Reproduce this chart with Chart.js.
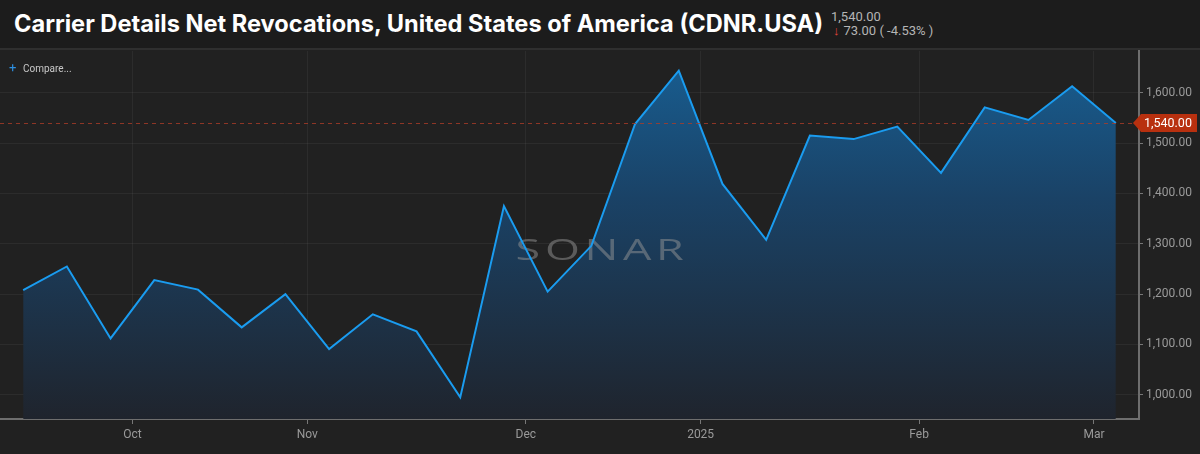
<!DOCTYPE html>
<html>
<head>
<meta charset="utf-8">
<script src="https://cdn.jsdelivr.net/npm/chart.js@4.4.1/dist/chart.umd.min.js"></script>
<style>
  html, body { margin: 0; padding: 0; background: #212121; }
  #wrap { width: 1200px; height: 454px; position: relative; overflow: hidden; }
  #head { height: 48px; background: #1c1c1c; border-bottom: 2px solid #2f2f2f; position: relative; font-family: Roboto, "Noto Sans", sans-serif; }
  #title { position: absolute; left: 14px; top: 9px; color: #fff; font-family: Inter, "Liberation Sans", sans-serif; font-size: 23.6px; font-weight: 700; white-space: nowrap; line-height: 30px; }
  #last { position: absolute; left: 831px; top: 10px; color: #b5b5b5; font-size: 13px; line-height: 14px; }
  #chg { position: absolute; left: 833px; top: 24px; color: #b5b5b5; font-size: 13px; line-height: 14px; }
  #chg span { color: #e0453a; font-weight: 700; margin-right: 4px; }
  #box { width: 1200px; height: 404px; }
</style>
</head>
<body>
<div id="wrap">
  <div id="head">
    <div id="title">Carrier Details Net Revocations, United States of America (CDNR.USA)</div>
    <div id="last">1,540.00</div>
    <div id="chg"><span>&#8595;</span>73.00 ( -4.53% )</div>
  </div>
  <div id="box"><canvas id="myChart1"></canvas></div>
</div>
<script>
  // weekly readings, mid Sep 2024 -> early Mar 2025
  const weeks = ['Sep 14','Sep 21','Sep 28','Oct 5','Oct 12','Oct 19','Oct 26','Nov 2','Nov 9','Nov 16','Nov 23','Nov 30',
    'Dec 7','Dec 14','Dec 21','Dec 28','Jan 4','Jan 11','Jan 18','Jan 25','Feb 1','Feb 8','Feb 15','Feb 22','Mar 1','Mar 8'];
  const revocations = [1208, 1255, 1112, 1228, 1209, 1134, 1200, 1091, 1160, 1126, 995, 1375,
    1205, 1296, 1538, 1644, 1419, 1308, 1515, 1508, 1533, 1441, 1571, 1546, 1613, 1540];

  // month ticks sit between weekly points
  const monthTickPos = [2.5, 6.5, 11.5, 15.5, 20.5, 24.5];
  const monthTickLabels = ['Oct', 'Nov', 'Dec', '2025', 'Feb', 'Mar'];
  const yTicks = [1000, 1100, 1200, 1300, 1400, 1500, 1600];

  const points = revocations.map((v, i) => ({ x: i, y: v }));
  const lastVal = revocations[revocations.length - 1];

  const fmt = v => v.toLocaleString('en-US', { minimumFractionDigits: 2, maximumFractionDigits: 2 });

  const extras = {
    id: 'extras',
    beforeDatasetsDraw(chart) {
      // watermark sits between the area fill and the line
      const { ctx, chartArea } = chart;
      ctx.save();
      ctx.translate((chartArea.left + chartArea.right) / 2 + 31, 202);
      ctx.scale(1.55, 1);
      ctx.font = '400 29px "Open Sans", Lato, sans-serif';
      ctx.letterSpacing = '3px';
      ctx.fillStyle = 'rgba(150,150,150,0.5)';
      ctx.textAlign = 'center';
      ctx.textBaseline = 'middle';
      ctx.fillText('SONAR', 1, 0);
      ctx.restore();
    },
    afterDatasetsDraw(chart) {
      const { ctx, chartArea, scales } = chart;
      const y = scales.y.getPixelForValue(lastVal);
      ctx.save();
      ctx.strokeStyle = 'rgba(170,60,40,0.8)';
      ctx.lineWidth = 1;
      ctx.setLineDash([4, 4]);
      ctx.beginPath();
      ctx.moveTo(chartArea.left, Math.round(y) + 0.5);
      ctx.lineTo(chartArea.right, Math.round(y) + 0.5);
      ctx.stroke();
      ctx.setLineDash([]);
      // compare button
      ctx.fillStyle = '#2d8fe0';
      ctx.textBaseline = 'middle';
      ctx.font = '13px Roboto, sans-serif';
      ctx.fillText('+', 9, 19);
      ctx.font = '10px Roboto, sans-serif';
      ctx.fillStyle = '#c8c8c8';
      ctx.fillText('Compare...', 23, 19);
      ctx.restore();
    },
    afterDraw(chart) {
      const { ctx, chartArea, scales } = chart;
      ctx.save();
      // y tick labels drawn here so they add no padding to the layout
      ctx.fillStyle = '#9a9a9a';
      ctx.font = '12px Roboto, sans-serif';
      ctx.textBaseline = 'middle';
      ctx.textAlign = 'left';
      yTicks.forEach(v => {
        ctx.fillText(fmt(v), chartArea.right + 7, scales.y.getPixelForValue(v));
      });
      // last value tag
      const y = scales.y.getPixelForValue(lastVal);
      const x0 = chartArea.right - 6;
      ctx.fillStyle = '#b8300f';
      ctx.beginPath();
      ctx.moveTo(x0, y);
      ctx.lineTo(x0 + 8, y - 9);
      ctx.lineTo(1197, y - 9);
      ctx.lineTo(1197, y + 9);
      ctx.lineTo(x0 + 8, y + 9);
      ctx.closePath();
      ctx.fill();
      ctx.fillStyle = '#ffffff';
      ctx.font = '12.5px Roboto, sans-serif';
      ctx.fillText(fmt(lastVal), x0 + 11, y + 1);
      ctx.restore();
    }
  };

  const config1 = {
    type: 'line',
    data: {
      datasets: [{
        data: points,
        borderColor: '#1a9cf0',
        borderWidth: 2,
        pointRadius: 0,
        tension: 0,
        fill: 'start',
        backgroundColor: (c) => {
          const area = c.chart.chartArea;
          if (!area) return 'rgba(22,88,140,0.8)';
          const g = c.chart.ctx.createLinearGradient(0, area.top, 0, area.bottom);
          g.addColorStop(0, '#185f93');
          g.addColorStop(0.4, '#1a4266');
          g.addColorStop(1, '#1f242d');
          return g;
        }
      }]
    },
    options: {
      responsive: true,
      maintainAspectRatio: false,
      animation: false,
      layout: { padding: { top: 1, left: 0, right: 0, bottom: 0 } },
      plugins: {
        legend: { display: false },
        tooltip: { enabled: false },
        filler: { drawTime: 'beforeDatasetsDraw' }
      },
      scales: {
        x: {
          type: 'linear',
          min: -0.53,
          max: 25.53,
          afterBuildTicks: (s) => { s.ticks = monthTickPos.map(v => ({ value: v })); },
          afterFit: (s) => { s.height = 35; },
          ticks: {
            color: '#9a9a9a',
            font: { family: 'Roboto', size: 12 },
            padding: 4,
            maxRotation: 0,
            autoSkip: false,
            callback: (v) => monthTickLabels[monthTickPos.indexOf(v)]
          },
          grid: { color: 'rgba(255,255,255,0.05)', tickColor: '#777', tickLength: 5 },
          border: { color: '#6e6e6e', width: 2 }
        },
        y: {
          position: 'right',
          min: 952,
          max: 1683,
          afterBuildTicks: (s) => { s.ticks = yTicks.map(v => ({ value: v })); },
          afterFit: (s) => { s.width = 61; },
          ticks: { display: false },
          grid: { color: 'rgba(255,255,255,0.05)', tickColor: '#777', tickLength: 4 },
          border: { color: '#6e6e6e', width: 2 }
        }
      }
    },
    plugins: [extras]
  };

  const myChart = new Chart(
    document.getElementById('myChart1'),
    config1
  );
</script>
</body>
</html>
